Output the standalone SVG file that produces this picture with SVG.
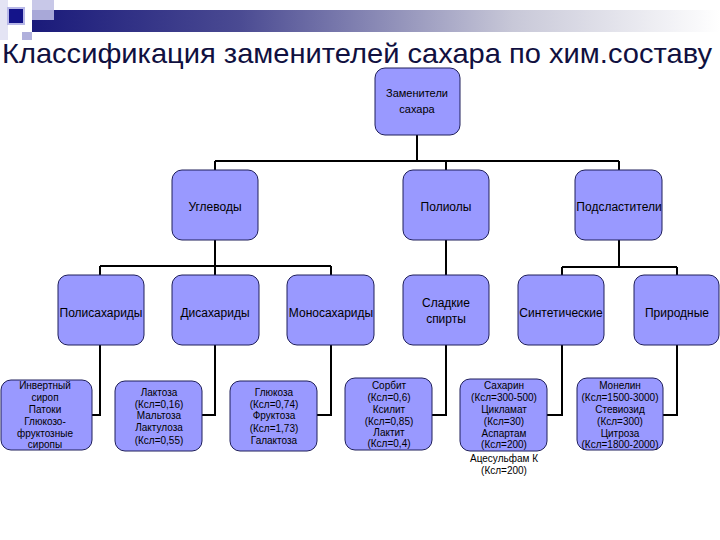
<svg xmlns="http://www.w3.org/2000/svg" width="720" height="540" viewBox="0 0 720 540">
<defs>
<linearGradient id="bar" x1="0" y1="0" x2="1" y2="0">
<stop offset="0" stop-color="#1a1a7a"/>
<stop offset="0.3" stop-color="#4a4a92"/>
<stop offset="0.7" stop-color="#c8c8d8"/>
<stop offset="1" stop-color="#ffffff"/>
</linearGradient>
<style>
.box{fill:#9999ff;stroke:#1e1e5a;stroke-width:1}
.t{font-family:"Liberation Sans",Arial,sans-serif;font-size:12px;fill:#000;text-anchor:middle}
.s{font-family:"Liberation Sans",Arial,sans-serif;font-size:10px;fill:#000;text-anchor:middle}
.c{fill:none;stroke:#000;stroke-width:2}
</style>
</defs>
<rect width="720" height="540" fill="#ffffff"/>
<g id="header">
<rect x="0" y="0" width="8" height="40" fill="#e4e4f4"/>
<rect x="32" y="0" width="22" height="12" fill="#c8c8e8"/>
<rect x="32" y="10" width="688" height="22" fill="url(#bar)"/>
<rect x="32" y="10" width="22" height="10" fill="#a8a8d8"/>
<rect x="22" y="32" width="10" height="8" fill="#b0b0dc"/>
<rect x="7" y="7" width="18" height="18" fill="#b8b8e8"/>
<rect x="9" y="9" width="14" height="14" fill="#14148a"/>
<text x="2" y="63" font-family="'Liberation Sans',Arial,sans-serif" font-size="28" fill="#101040" textLength="710" lengthAdjust="spacingAndGlyphs">Классификация заменителей сахара по хим.составу</text>
</g>
<g id="connectors">
<path class="c" d="M417 135V161M215 161H619M215 161V170M446 161V170M619 161V170"/>
<path class="c" d="M215 240V266M100 266H331M100 266V275M215 266V275M331 266V275"/>
<path class="c" d="M446 240V275"/>
<path class="c" d="M619 240V267M562 267H677M562 267V275M677 267V275"/>
<path class="c" d="M100 345V415H92M215 345V415H202M331 345V415H317M446 345V415H432M562 345V415H547M677 345V415H663"/>
</g>
<g id="root"><rect class="box" x="375" y="68" width="85" height="67" rx="10"/><text class="s" x="417" y="97" style="font-size:11px">Заменители</text><text class="s" x="417" y="113" style="font-size:11px">сахара</text></g>
<g id="uglevody"><rect class="box" x="172" y="170" width="86" height="70" rx="10"/><text class="t" x="215" y="211">Углеводы</text></g>
<g id="polioly"><rect class="box" x="403" y="170" width="86" height="70" rx="10"/><text class="t" x="446" y="211">Полиолы</text></g>
<g id="podslastiteli"><rect class="box" x="575" y="170" width="87" height="70" rx="10"/><text class="t" x="619" y="211">Подсластители</text></g>
<g id="polisaharidy"><rect class="box" x="58" y="275" width="86" height="70" rx="10"/><text class="t" x="101" y="317">Полисахариды</text></g>
<g id="disaharidy"><rect class="box" x="172" y="275" width="87" height="70" rx="10"/><text class="t" x="215" y="317">Дисахариды</text></g>
<g id="monosaharidy"><rect class="box" x="287" y="275" width="87" height="70" rx="10"/><text class="t" x="331" y="317">Моносахариды</text></g>
<g id="sladkie"><rect class="box" x="403" y="275" width="86" height="70" rx="10"/><text class="t" x="446" y="307">Сладкие</text><text class="t" x="446" y="323">спирты</text></g>
<g id="sinteticheskie"><rect class="box" x="518" y="275" width="86" height="70" rx="10"/><text class="t" x="561" y="317">Синтетические</text></g>
<g id="prirodnye"><rect class="box" x="634" y="275" width="85" height="70" rx="10"/><text class="t" x="677" y="317">Природные</text></g>
<g id="invert"><rect class="box" x="1" y="380" width="91" height="70" rx="10"/>
<text class="s" x="45"><tspan x="45" y="389">Инвертный</tspan><tspan x="45" y="401">сироп</tspan><tspan x="45" y="413">Патоки</tspan><tspan x="45" y="425">Глюкозо-</tspan><tspan x="45" y="437">фруктозные</tspan><tspan x="45" y="448">сиропы</tspan></text></g>
<g id="laktoza"><rect class="box" x="115" y="381" width="87" height="70" rx="10"/>
<text class="s" x="159"><tspan x="159" y="396">Лактоза</tspan><tspan x="159" y="408">(Ксл=0,16)</tspan><tspan x="159" y="419">Мальтоза</tspan><tspan x="159" y="431">Лактулоза</tspan><tspan x="159" y="444">(Ксл=0,55)</tspan></text></g>
<g id="glukoza"><rect class="box" x="230" y="381" width="87" height="70" rx="10"/>
<text class="s" x="274"><tspan x="274" y="396">Глюкоза</tspan><tspan x="274" y="408">(Ксл=0,74)</tspan><tspan x="274" y="419">Фруктоза</tspan><tspan x="274" y="432">(Ксл=1,73)</tspan><tspan x="274" y="444">Галактоза</tspan></text></g>
<g id="sorbit"><rect class="box" x="345" y="378" width="87" height="72" rx="10"/>
<text class="s" x="389"><tspan x="389" y="389">Сорбит</tspan><tspan x="389" y="401">(Ксл=0,6)</tspan><tspan x="389" y="413">Ксилит</tspan><tspan x="389" y="425">(Ксл=0,85)</tspan><tspan x="389" y="436">Лактит</tspan><tspan x="389" y="447">(Ксл=0,4)</tspan></text></g>
<g id="saharin"><rect class="box" x="460" y="379" width="87" height="72" rx="10"/>
<text class="s" x="504"><tspan x="504" y="389">Сахарин</tspan><tspan x="504" y="401">(Ксл=300-500)</tspan><tspan x="504" y="413">Цикламат</tspan><tspan x="504" y="425">(Ксл=30)</tspan><tspan x="504" y="437">Аспартам</tspan><tspan x="504" y="448">(Ксл=200)</tspan><tspan x="504" y="462">Ацесульфам К</tspan><tspan x="504" y="474">(Ксл=200)</tspan></text></g>
<g id="monelin"><rect class="box" x="577" y="378" width="86" height="72" rx="10"/>
<text class="s" x="620"><tspan x="620" y="389">Монелин</tspan><tspan x="620" y="401">(Ксл=1500-3000)</tspan><tspan x="620" y="413">Стевиозид</tspan><tspan x="620" y="425">(Ксл=300)</tspan><tspan x="620" y="437">Цитроза</tspan><tspan x="620" y="448">(Ксл=1800-2000)</tspan></text></g>
</svg>
